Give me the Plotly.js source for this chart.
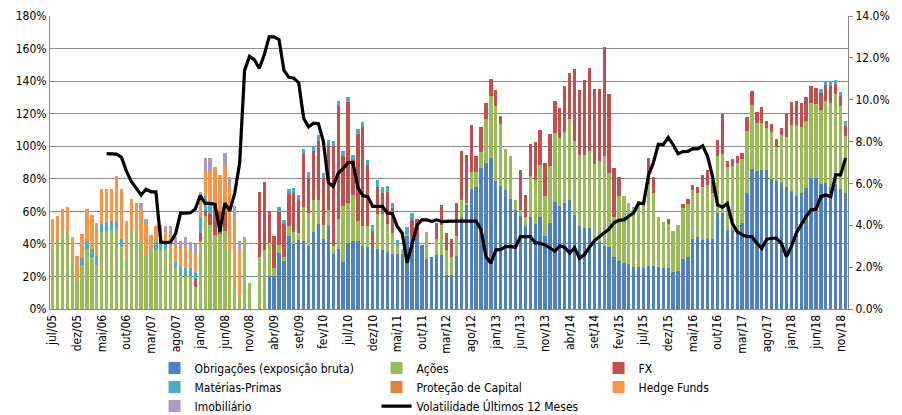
<!DOCTYPE html>
<html>
<head>
<meta charset="utf-8">
<script src="https://cdn.plot.ly/plotly-3.0.1.min.js"></script>
<style>html,body{margin:0;padding:0;background:#fff;}#chart{width:902px;height:415px;}</style>
</head>
<body>
<div id="chart"></div>
<script>
// ---- categories: monthly, jul/05 .. dez/18 ----
const monthNames = ['jan','fev','mar','abr','mai','jun','jul','ago','set','out','nov','dez'];
const firstYear = 2005, firstMonth = 6, nMonths = 162;
const categories = [];
for (let k = 0; k < nMonths; k++) {
  const m = (firstMonth + k) % 12;
  const y = firstYear + Math.floor((firstMonth + k) / 12);
  categories.push(monthNames[m] + '/' + String(y).slice(2));
}
const tickEvery = 5;

// ---- series (in % of NAV) ----
const obrigacoes = [
  0,0,0,0,0,0,0,0,0,0,
  0,0,0,0,0,0,0,0,0,0,
  0,0,0,0,0,0,0,0,0,0,
  0,0,0,0,0,0,0,0,0,0,
  0,0,0,0,20,20,34.5,29.5,45,40,
  42.4,42,38.7,47,52,42.8,50.7,34,37,29,
  40.4,42,41.8,38.8,38,38,37,36.3,35,34,
  34,34,45,44.5,44,39.3,31,32,33,33,
  21,21,32.6,56.4,64,73.6,74.8,86.5,90,92.7,
  78.8,75.7,73,67.5,61,57,51,56.8,52.3,56.8,
  45,53,66,63,65,67,57.8,51,50,50,
  40.4,41,38.8,38.3,32,29.6,28.3,27.6,26,26,
  25.4,26.5,26.6,26,25.4,25.2,23,23.6,31,31.8,
  42.7,44,42.2,42.8,43,59,59,48.6,48.6,48,
  52.7,71.5,86,84.8,85.5,85.5,79.7,78.9,77.3,75.2,
  72.5,69.7,71.1,74.6,80.7,80.7,76.8,77.3,74.8,76.8,
  73.8,71.1
];
const acoes = [
  37,43,48,48,30.5,18.5,27,37,32,27,
  47,48,48.5,49,38,30.5,48,48,42,32.5,
  36,36,36.5,37,37,25,20.5,20,20,13.7,
  42,57,51.5,45.5,46,48,35,15,7.5,44.5,
  16,0,32,36,20.5,5,5,2.5,6,7,
  4.5,20.5,20,20,15,9,10.3,4.5,18,34,
  24.6,28,12,12.2,12.7,0,21.5,22,17,12.7,
  5,3,1,0,0,0,16.5,0,10,18.5,
  15.5,11,12,10.6,1,10.8,9.6,10,26.6,38.3,
  46,38.1,25.3,26.7,6,4,5.5,25,27,31.7,
  24.5,35,42,42,43.5,50,45.5,43.8,44.5,47,
  48.8,50,55,45,24.8,39.6,41,37.5,36.5,40.5,
  39.6,50,44.6,30.4,28,27,25,28,30.8,32.5,
  30.5,27.5,32.5,33.5,28,35.3,36.5,38.6,39.4,42,
  39.4,37.9,39.3,29.3,28.7,25.6,29.3,20.5,29.7,30.7,
  40.6,43.5,40.6,40.6,45.7,45.3,45.5,50.6,51.6,55,
  51,35.2
];
const fx = [
  0,0,0,0,0,0,0,0,0,0,
  0,0,0,0,0,0,0,0,0,0,
  0,0,0,0,0,0,0,0,0,4.5,
  4.5,3.5,7,19.5,14,12,0,0,0,0,
  0,0,40,42,19.5,20,20,20,19.7,24.5,
  20,33,22,30,36.5,28.5,39.5,61.5,69.6,31,
  62,21.5,53.7,60.6,38,9.5,16.5,13,20,15.5,
  0,0,0,10,11,0,0,0,10,12.4,
  10,11,20.4,30,29.6,28.8,9.9,15.5,10.2,10,
  10,5,0,0,0,24.5,13.5,19.7,23,21.5,
  20,19.5,20,18.5,28.5,28,44,40,46.3,51,
  45.8,44,67,48.7,30,12.2,0,0,0,0,
  0,16,10.2,0,0,3.2,0,0,3,3.2,
  3,3.2,7.9,9,8.5,9.8,24,3.5,4,4.2,
  3.8,8.4,8.9,7.2,9.8,4.7,4.7,4.9,4,14.4,
  13.9,14.3,14.7,14.8,10.3,10,10.7,9.8,10.9,6.5,
  6.2,6.4
];
const materiasPrimas = [
  0,0,0,0,0,0,4.5,5,5,5.5,
  5.5,5,5.5,5,5,0,0,0,0,0,
  0,5,5,3,0,4,5,5,5,4.7,
  10,9,7,0,0,0,0,0,0,0,
  0,0,0,0,0,0,3,2.7,3.3,3,
  3,3,3.3,3,3.3,3,3.5,3.4,3,3,
  3.3,3,3.3,3.3,3,4,4,3.7,3.5,3,
  3.5,0,4.5,4.5,0,0,0,0,0,0,
  0,0,0,0,0,0,0,0,0,0,
  0,0,0,0,0,0,0,0,0,0,
  0,0,0,0,0,0,0,0,0,0,
  0,0,0,0,0,0,0,0,0,0,
  0,0,0,0,0,0,0,0,0,0,
  0,0,0,0,0,0,0,0,0,0,
  0,0,0,0,0,0,0,0,0,0,
  0,0,0,0,0,0,2,2.5,2.5,2.5,
  2.2,2.5
];
const protecaoCapital = [
  0,0,0,0,0,0,0,0,0,0,
  0,0,0,0,0,0,0,0,0,0,
  0,0,0,0,0,0,0,0,0,0,
  0,0,0,0,0,0,0,0,0,0,
  0,0,0,0,0,0,0,0,0,0,
  0,0,0,0,0,0,0,0,0,0,
  0,0,0,0,0,0,0,0,0,0,
  0,0,0,0,0,0,0,0,0,0,
  0,0,0,0,0,0,0,0,0,0,
  0,0,0,0,0,0,0,0,0,0,
  0,0,0,0,0,0,0,0,0,0,
  0,0,0,0,0,0,0,0,0,0,
  0,0,0,0,0,0,0,0,0,0,
  0,0,0,0,0,0,0,0,0,0,
  0,0,0,0,0,0,0,0,0,0,
  0,0,0,0,0,0,0,0,0,0,
  0,0
];
const hedgeFunds = [
  18,14,13.5,14.5,14,14,14.5,19.5,21,20.5,
  21,21,20,27.5,30.5,23.5,19.5,17,19.5,20,
  9.5,10,10,7,9,10,12,14,11,11.5,
  11,15.5,19.5,22.5,22.4,28,40,42,28.5,0,
  0,0,0,0,0,0,0,0,0,0,
  0,0,0,0,0,0,0,0,0,0,
  0,0,0,0,0,0,0,0,0,0,
  0,0,0,0,0,0,0,0,0,0,
  0,0,0,0,0,0,0,0,0,0,
  0,0,0,0,0,0,0,0,0,0,
  0,0,0,0,0,0,0,0,0,0,
  0,0,0,0,0,0,0,0,0,0,
  0,0,0,0,0,0,0,0,0,0,
  0,0,0,0,0,0,0,0,0,0,
  0,0,0,0,0,0,0,0,0,0,
  0,0,0,0,0,0,0,0,0,0,
  0,0
];
const imobiliario = [
  0,0,0,0,0,0,0,0,0,0,
  0,0,0,0,0,0,0,0,3.5,3,
  0,0,0,4,5,5,4.5,5,5,5.3,
  4.5,8,8,0,0,7.7,6,6,6,0,
  0,0,0,0,0,0,0,0,0,0,
  0,0,0,0,0,0,0,0,0,0,
  0,0,0,0,0,0,0,0,0,0,
  0,0,0,0,0,0,0,0,0,0,
  0,0,0,0,0,0,0,0,0,0,
  0,0,0,0,0,0,0,0,0,0,
  0,0,0,0,0,0,0,0,0,0,
  0,0,0,0,0,0,0,0,0,0,
  0,0,0,0,0,0,0,0,0,0,
  0,0,0,0,0,0,0,0,0,0,
  0,0,0,0,0,0,0,0,0,0,
  0,0,0,0,0,0,0,0,0,0,
  0,0
];
// volatility, last 12 months (%), right axis
const volatilidade = [
  null,null,null,null,null,null,null,null,null,null,
  null,7.42,7.42,7.4,7.25,6.6,6.1,5.75,5.45,5.72,
  5.6,5.6,3.2,3.17,3.2,3.6,4.58,4.58,4.6,4.78,
  5.42,5.05,5.05,5.0,3.7,5.06,4.69,5.54,6.97,11.4,
  12.07,11.9,11.5,12.15,13.0,13.0,12.87,11.4,11.07,11.03,
  10.8,9.1,8.7,8.88,8.85,8.0,6.05,5.86,6.49,6.7,
  7.0,7.0,5.8,5.42,5.37,4.9,4.9,4.9,4.58,4.55,
  3.94,3.62,2.2,3.1,4.0,4.26,4.26,4.18,4.26,4.18,
  4.2,4.2,4.2,4.2,4.2,4.22,4.2,3.8,2.5,2.19,
  2.82,2.85,2.98,2.98,2.95,3.46,3.46,3.46,3.17,3.14,
  3.06,2.93,2.76,3.02,2.94,2.67,2.92,2.42,2.6,2.95,
  3.25,3.45,3.62,3.82,4.12,4.24,4.26,4.42,4.6,5.06,
  5.04,6.4,7.0,7.87,7.85,8.2,7.85,7.42,7.52,7.53,
  7.66,7.65,7.8,7.3,6.33,4.98,4.86,5.04,4.1,3.7,
  3.54,3.46,3.46,3.14,2.9,3.33,3.38,3.38,3.14,2.5,
  2.98,3.62,4.02,4.42,4.74,4.77,5.37,5.45,5.37,6.41,
  6.41,7.21
];

const seriesNames = ['Obrigações (exposição bruta)','Ações','FX','Matérias-Primas','Proteção de Capital','Hedge Funds','Imobiliário'];
const seriesValues = [obrigacoes, acoes, fx, materiasPrimas, protecaoCapital, hedgeFunds, imobiliario];
const seriesColors = ['#4F81BD','#9BBB59','#C0504D','#4BACC6','#E0823D','#F79646','#A99BC4'];
const volName = 'Volatilidade Últimos 12 Meses';

const FONT = '"DejaVu Sans Condensed", "DejaVu Sans", sans-serif';

const traces = seriesNames.map((name, k) => ({
  type: 'bar', name: name, x: categories, y: seriesValues[k],
  marker: {color: seriesColors[k], line: {width: 0}},
  hoverinfo: 'skip'
}));
traces.push({
  type: 'scatter', mode: 'lines', name: volName, x: categories, y: volatilidade,
  yaxis: 'y2', line: {color: '#000000', width: 3.2}, connectgaps: false, hoverinfo: 'skip'
});

const tickvals = categories.filter((c, i) => i % tickEvery === 0);

const layout = {
  width: 902, height: 415,
  margin: {l: 50, r: 54, t: 16, b: 106, autoexpand: false},
  paper_bgcolor: '#ffffff', plot_bgcolor: '#ffffff',
  barmode: 'stack', bargap: 0.33,
  showlegend: true,
  font: {family: FONT, size: 12, color: '#000000'},
  xaxis: {
    type: 'category', tickmode: 'array', tickvals: tickvals, ticktext: tickvals,
    tickangle: -90, showgrid: false, showline: true, linecolor: '#868686', linewidth: 1,
    ticks: '', zeroline: false, tickfont: {size: 12}, fixedrange: true
  },
  yaxis: {
    range: [0, 180], dtick: 20, ticksuffix: '%', showgrid: true, gridcolor: '#8c8c8c', gridwidth: 1,
    showline: true, linecolor: '#868686', linewidth: 1, zeroline: false, ticks: '', tickfont: {size: 12}
  },
  yaxis2: {
    overlaying: 'y', side: 'right', range: [0, 14], dtick: 2, tickformat: '.1f', ticksuffix: '%',
    showgrid: false, showline: true, linecolor: '#868686', linewidth: 1, zeroline: false,
    ticks: 'outside', ticklen: 4, tickcolor: '#868686', tickfont: {size: 12}
  },
  legend: {
    orientation: 'h', x: 0.131, xanchor: 'left', y: -0.152, yanchor: 'top',
    entrywidth: 177, entrywidthmode: 'pixels', itemwidth: 30, traceorder: 'normal',
    font: {size: 12, color: '#000000'}, bgcolor: 'rgba(0,0,0,0)', tracegroupgap: 0
  }
};

Plotly.newPlot('chart', traces, layout, {staticPlot: true, displayModeBar: false});
</script>
</body>
</html>
